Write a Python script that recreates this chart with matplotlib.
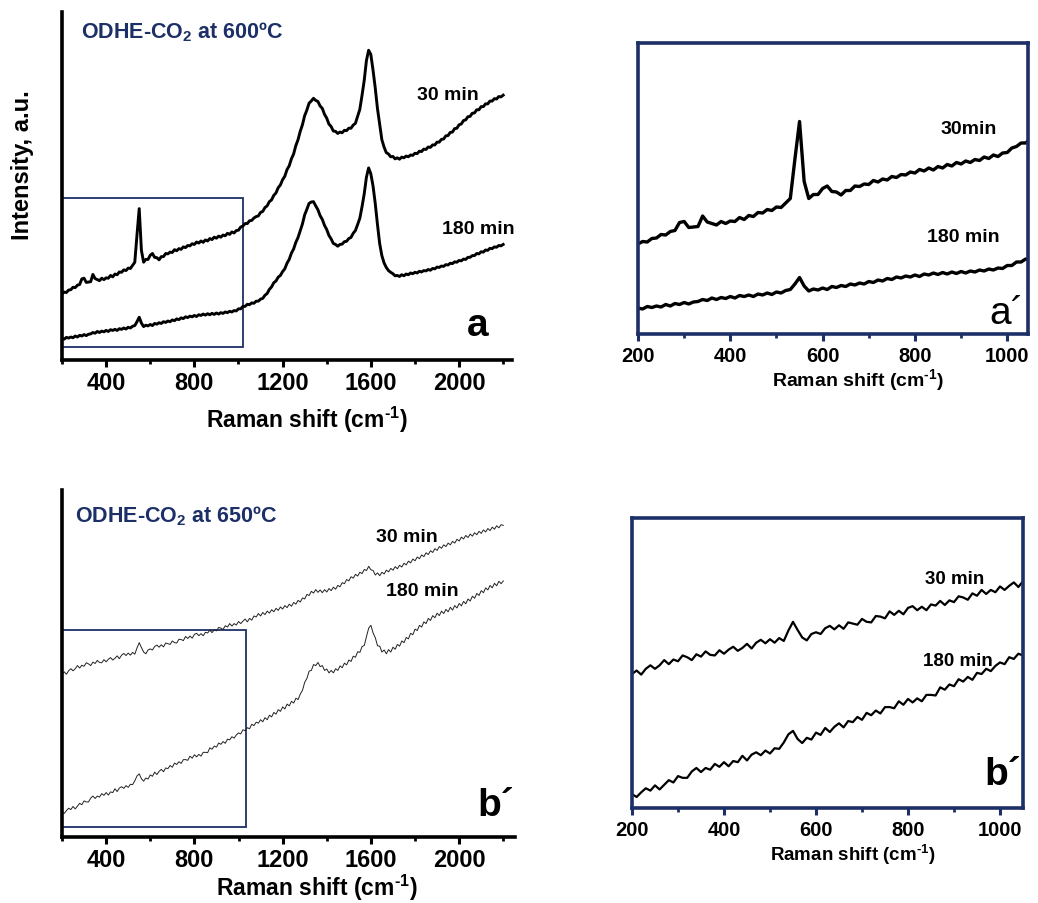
import numpy as np
import matplotlib
matplotlib.use("Agg")
import matplotlib.pyplot as plt
from matplotlib.patches import Rectangle
from matplotlib.ticker import MultipleLocator

plt.rcParams['font.family'] = ['Liberation Sans', 'DejaVu Sans']
plt.rcParams['mathtext.fontset'] = 'custom'
plt.rcParams['mathtext.rm'] = 'Liberation Sans:bold'
plt.rcParams['mathtext.bf'] = 'Liberation Sans:bold'
plt.rcParams['mathtext.it'] = 'Liberation Sans:bold'

# ---------------- data ----------------
# Raman shift grid (cm-1), 200 ... 2200 every 10
raman_shift = np.arange(200, 2201, 10)

# ODHE-CO2 at 600 C, 30 min (arb. intensity)
a_30min = [
    19.0, 19.5, 19.4, 20.1, 20.2, 20.9, 20.8, 21.5, 21.7, 23.3,
    23.5, 22.3, 22.4, 22.5, 24.6, 23.4, 23.1, 22.8, 23.5, 23.1,
    23.6, 23.5, 24.3, 23.9, 24.7, 24.5, 25.3, 25.2, 25.9, 25.7,
    26.4, 26.3, 27.2, 28.1, 36.0, 43.5, 31.5, 28.1, 28.9, 28.9,
    30.1, 30.6, 29.5, 29.4, 28.8, 29.7, 29.7, 30.6, 30.5, 31.0,
    30.9, 31.7, 31.4, 32.0, 31.8, 32.5, 32.3, 32.9, 32.8, 33.4,
    33.2, 33.9, 33.6, 34.2, 33.8, 34.5, 34.2, 34.9, 34.6, 35.3,
    35.0, 35.6, 35.3, 35.9, 35.7, 36.4, 36.1, 36.8, 36.5, 37.2,
    37.3, 38.2, 38.5, 39.2, 39.2, 40.0, 40.1, 40.8, 41.2, 41.4,
    42.4, 42.7, 43.8, 44.3, 45.5, 46.0, 47.3, 48.0, 49.5, 50.3,
    51.8, 52.8, 54.7, 55.8, 57.8, 59.2, 61.6, 63.3, 65.7, 67.6,
    70.2, 71.8, 73.8, 74.4, 75.2, 74.6, 74.3, 73.0, 72.3, 70.6,
    69.5, 67.8, 67.1, 65.8, 65.7, 65.1, 65.5, 65.3, 66.0, 65.9,
    66.6, 66.6, 67.5, 68.0, 70.0, 72.0, 76.0, 80.3, 86.0, 89.0,
    87.8, 83.3, 78.2, 72.3, 67.7, 63.3, 61.2, 59.6, 59.2, 58.4,
    58.5, 57.8, 58.1, 57.7, 58.3, 58.1, 58.6, 58.4, 58.9, 58.8,
    59.4, 59.3, 60.0, 59.9, 60.6, 60.5, 61.2, 61.1, 61.8, 61.8,
    62.6, 62.6, 63.4, 63.5, 64.4, 64.5, 65.4, 65.5, 66.5, 66.6,
    67.6, 67.8, 68.8, 69.0, 69.9, 70.0, 70.9, 71.0, 71.9, 71.9,
    72.8, 72.8, 73.6, 73.6, 74.4, 74.4, 75.1, 75.0, 75.7, 75.6,
    76.1,
]

# ODHE-CO2 at 600 C, 180 min
a_180min = [
    6.2, 6.0, 6.5, 6.3, 6.6, 6.4, 6.9, 6.6, 7.1, 6.9,
    7.3, 7.0, 7.4, 7.5, 7.9, 7.7, 8.2, 7.9, 8.3, 8.1,
    8.5, 8.2, 8.7, 8.5, 8.8, 8.5, 9.0, 8.8, 9.2, 8.9,
    9.4, 9.2, 9.7, 9.9, 11.0, 12.3, 10.6, 9.6, 10.0, 9.8,
    10.2, 9.9, 10.5, 10.3, 10.7, 10.5, 11.0, 10.8, 11.2, 11.0,
    11.5, 11.3, 11.8, 11.6, 12.1, 11.9, 12.4, 12.2, 12.6, 12.4,
    12.8, 12.5, 13.0, 12.8, 13.2, 12.9, 13.3, 13.0, 13.4, 13.1,
    13.5, 13.2, 13.6, 13.4, 13.8, 13.6, 14.0, 13.8, 14.2, 14.1,
    14.7, 14.7, 15.4, 15.4, 16.0, 15.9, 16.4, 16.3, 16.9, 16.9,
    17.5, 17.7, 18.6, 19.1, 20.3, 21.0, 22.2, 22.7, 23.8, 24.3,
    25.4, 26.2, 27.8, 28.9, 30.7, 31.9, 33.8, 35.2, 37.2, 39.1,
    41.7, 43.3, 45.0, 45.4, 45.5, 44.3, 43.2, 41.5, 40.4, 38.7,
    37.5, 35.8, 34.8, 33.5, 33.2, 32.7, 33.2, 33.3, 34.0, 34.1,
    34.9, 35.2, 36.4, 37.2, 38.9, 40.7, 44.0, 47.7, 52.5, 55.2,
    53.5, 50.0, 45.0, 39.0, 33.5, 30.0, 27.9, 26.6, 25.7, 25.2,
    24.8, 24.2, 24.3, 24.0, 24.5, 24.2, 24.7, 24.5, 25.0, 24.8,
    25.2, 25.0, 25.5, 25.3, 25.7, 25.6, 26.0, 25.8, 26.3, 26.2,
    26.7, 26.6, 27.0, 26.9, 27.4, 27.3, 27.8, 27.7, 28.2, 28.1,
    28.6, 28.5, 29.0, 28.9, 29.5, 29.5, 30.0, 30.0, 30.6, 30.5,
    31.1, 31.0, 31.6, 31.5, 32.1, 32.0, 32.5, 32.4, 32.9, 32.8,
    33.2,
]

# ODHE-CO2 at 650 C, 30 min
b_30min = [
    47.0, 47.6, 46.9, 47.9, 48.5, 47.9, 48.5, 49.4, 48.7, 49.5,
    49.2, 50.2, 49.9, 49.4, 50.4, 50.0, 50.9, 50.3, 50.2, 51.1,
    50.5, 51.2, 51.7, 51.0, 51.5, 52.2, 51.4, 52.4, 52.9, 52.3,
    53.0, 52.4, 53.2, 52.7, 54.5, 56.0, 54.6, 53.3, 52.8, 53.9,
    54.2, 53.9, 54.9, 55.3, 54.7, 55.4, 54.8, 55.9, 55.7, 55.5,
    56.5, 56.0, 55.9, 57.0, 56.9, 56.6, 57.8, 57.2, 57.9, 57.3,
    58.4, 58.7, 58.0, 58.6, 58.0, 59.0, 58.8, 59.6, 58.9, 59.7,
    59.4, 60.4, 60.2, 59.8, 60.9, 60.5, 61.5, 60.8, 61.5, 61.1,
    62.1, 61.5, 62.2, 62.8, 62.0, 63.0, 62.5, 63.7, 63.4, 64.4,
    63.7, 64.7, 64.1, 65.1, 64.5, 65.5, 64.9, 65.9, 65.3, 66.3,
    65.7, 66.7, 66.1, 67.1, 66.5, 67.6, 67.1, 68.2, 67.7, 68.9,
    68.6, 69.9, 69.6, 70.8, 70.3, 71.3, 70.5, 71.2, 70.4, 71.3,
    70.6, 71.6, 71.0, 72.0, 71.4, 72.5, 72.1, 73.3, 73.0, 74.2,
    73.8, 75.0, 74.6, 75.7, 75.2, 76.3, 75.9, 77.1, 76.8, 78.0,
    77.0, 76.8, 75.5, 76.1, 75.3, 76.3, 75.8, 76.9, 76.4, 77.4,
    76.9, 77.9, 77.3, 78.3, 77.8, 78.9, 78.4, 79.5, 79.0, 80.1,
    79.6, 80.7, 80.2, 81.3, 80.8, 81.9, 81.4, 82.5, 82.0, 83.1,
    82.6, 83.7, 83.2, 84.2, 83.7, 84.7, 84.2, 85.2, 84.7, 85.8,
    85.3, 86.4, 85.9, 86.9, 86.3, 87.3, 86.7, 87.7, 87.1, 88.1,
    87.5, 88.5, 87.9, 88.9, 88.3, 89.3, 88.7, 89.7, 89.1, 90.0,
    89.8,
]

# ODHE-CO2 at 650 C, 180 min
b_180min = [
    7.3, 6.8, 7.6, 8.3, 7.9, 8.8, 8.1, 8.9, 9.7, 9.3,
    10.4, 10.1, 10.1, 11.2, 11.8, 11.1, 11.8, 11.5, 12.5, 12.0,
    12.8, 12.1, 13.0, 12.8, 13.9, 13.1, 14.1, 14.5, 14.0, 14.8,
    14.3, 15.2, 15.1, 16.2, 17.6, 18.2, 16.8, 16.1, 17.0, 16.7,
    17.9, 17.5, 18.7, 18.0, 18.9, 19.5, 18.8, 19.9, 19.7, 20.6,
    20.1, 21.3, 20.9, 21.7, 21.2, 22.3, 22.3, 22.1, 23.3, 22.7,
    23.7, 23.1, 23.8, 23.3, 24.4, 24.4, 24.3, 25.7, 25.3, 26.2,
    25.9, 27.1, 26.7, 27.5, 27.0, 28.2, 28.0, 28.9, 28.5, 29.4,
    30.0, 29.7, 30.9, 30.6, 31.5, 31.2, 32.5, 32.1, 33.1, 32.8,
    33.8, 33.2, 34.4, 33.8, 35.1, 34.6, 35.9, 35.4, 36.7, 36.2,
    37.5, 36.9, 38.3, 37.8, 39.1, 38.6, 40.0, 39.6, 41.2, 42.3,
    44.6, 45.7, 47.8, 48.0, 49.7, 49.4, 50.3, 49.1, 49.4, 48.0,
    48.4, 47.3, 48.0, 47.3, 48.5, 48.0, 49.3, 48.8, 50.1, 49.6,
    51.0, 50.6, 52.1, 51.8, 53.4, 53.2, 54.9, 55.2, 57.8, 60.2,
    61.0, 58.8, 57.4, 55.1, 55.0, 53.3, 53.9, 52.8, 54.0, 53.3,
    54.7, 54.1, 55.5, 55.0, 56.5, 56.0, 57.5, 57.1, 58.7, 58.3,
    59.9, 59.5, 61.0, 60.5, 62.0, 61.5, 63.0, 62.4, 63.8, 63.2,
    64.5, 63.8, 65.1, 64.4, 65.6, 64.9, 66.2, 65.4, 66.7, 66.0,
    67.3, 66.6, 67.9, 67.2, 68.6, 68.0, 69.4, 68.8, 70.2, 69.6,
    71.0, 70.4, 71.8, 71.2, 72.5, 71.8, 73.1, 72.4, 73.7, 73.0,
    73.8,
]

major_ticks_full = [400, 800, 1200, 1600, 2000]
major_ticks_zoom = [200, 400, 600, 800, 1000]
labels_time = ["30 min", "180 min"]

# ---------------- styling ----------------
W, H = 1038, 904
NAVY = '#1c2f66'
fig = plt.figure(figsize=(W / 100, H / 100), dpi=100)


def box(l, t, r, b):
    return [l / W, 1 - b / H, (r - l) / W, (b - t) / H]


def ftext(x, y, s, **kw):
    kw.setdefault('ha', 'center')
    kw.setdefault('va', 'center')
    fig.text(x / W, 1 - y / H, s, **kw)


def style_full(ax, xmax, ylim):
    ax.set_xlim(200, xmax)
    ax.set_ylim(*ylim)
    for s in ('top', 'right'):
        ax.spines[s].set_visible(False)
    for s in ('left', 'bottom'):
        ax.spines[s].set_linewidth(2.6)
        ax.spines[s].set_color('black')
    ax.set_xticks(major_ticks_full)
    ax.xaxis.set_minor_locator(MultipleLocator(200))
    ax.set_yticks([])
    ax.tick_params(axis='x', which='major', direction='out', length=5, width=2.2,
                   labelsize=17, pad=3)
    ax.tick_params(axis='x', which='minor', direction='out', length=3, width=2.0)
    for lab in ax.get_xticklabels():
        lab.set_fontweight('bold')


def style_zoom(ax, xmax, ylim):
    ax.set_xlim(200, xmax)
    ax.set_ylim(*ylim)
    for s in ax.spines.values():
        s.set_linewidth(2.6)
        s.set_color(NAVY)
    ax.set_xticks(major_ticks_zoom)
    ax.xaxis.set_minor_locator(MultipleLocator(100))
    ax.set_yticks([])
    ax.tick_params(axis='x', which='major', direction='out', length=5, width=2.2,
                   color=NAVY, labelsize=14.5, pad=4)
    ax.tick_params(axis='x', which='minor', direction='out', length=3, width=2.0,
                   color=NAVY)
    for lab in ax.get_xticklabels():
        lab.set_fontweight('bold')


xlab = r"Raman shift (cm$^{\text{-1}}$)"

# ---- panel a ----
ax_a = fig.add_axes(box(62, 13, 512, 361))
ax_a.plot(raman_shift, a_30min, color='black', lw=2.1)
ax_a.plot(raman_shift, a_180min, color='black', lw=2.1)
style_full(ax_a, 2240, (0, 100))
ax_a.add_patch(Rectangle((200, 3.7), 820, 42.9, fill=False, ec=NAVY, lw=1.3, clip_on=False))
ftext(81, 32, r"ODHE-CO$_{\text{2}}$ at 600ºC", ha='left', fontsize=15.5,
      fontweight='bold', color=NAVY)
ftext(448, 96, labels_time[0], fontsize=14, fontweight='bold')
ftext(478, 230, labels_time[1], fontsize=14, fontweight='bold')
ftext(478, 326, "a", fontsize=28, fontweight='bold')
ftext(23, 165, "Intensity, a.u.", rotation=90, fontsize=17, fontweight='bold')
ftext(307, 420, xlab, fontsize=16.5, fontweight='bold')

# ---- panel a' ----
ax_ap = fig.add_axes(box(638, 44, 1028, 335))
ax_ap.plot(raman_shift, a_30min, color='black', lw=2.4)
ax_ap.plot(raman_shift, a_180min, color='black', lw=2.4)
style_zoom(ax_ap, 1045, (1, 59.2))
ftext(969, 130, "30min", fontsize=14, fontweight='bold')
ftext(963, 237, labels_time[1], fontsize=14, fontweight='bold')
ftext(1007, 314, "a´", fontsize=28)
ftext(858, 380, xlab, fontsize=14, fontweight='bold')

# ---- panel b ----
ax_b = fig.add_axes(box(62, 491, 515, 838))
ax_b.plot(raman_shift, b_30min, color='#222222', lw=0.7)
ax_b.plot(raman_shift, b_180min, color='#222222', lw=0.7)
style_full(ax_b, 2253, (0, 100))
ax_b.add_patch(Rectangle((200, 2.9), 833, 56.8, fill=False, ec=NAVY, lw=1.3, clip_on=False))
ftext(75, 516, r"ODHE-CO$_{\text{2}}$ at 650ºC", ha='left', fontsize=15.5,
      fontweight='bold', color=NAVY)
ftext(407, 538, labels_time[0], fontsize=14, fontweight='bold')
ftext(422, 592, labels_time[1], fontsize=14, fontweight='bold')
ftext(496, 806, "b´", fontsize=28, fontweight='bold')
ftext(317, 888, xlab, fontsize=16.5, fontweight='bold')

# ---- panel b' ----
ax_bp = fig.add_axes(box(632, 519, 1023, 809))
offset_180 = 19.0
ax_bp.plot(raman_shift, b_30min, color='black', lw=1.6)
ax_bp.plot(raman_shift, np.array(b_180min) + offset_180, color='black', lw=1.6)
style_zoom(ax_bp, 1050, (23.9, 73.9))
ftext(955, 580, labels_time[0], fontsize=13.5, fontweight='bold')
ftext(958, 662, labels_time[1], fontsize=13.5, fontweight='bold')
ftext(1003, 775, "b´", fontsize=28, fontweight='bold')
ftext(853, 855, xlab, fontsize=13.5, fontweight='bold')

fig.savefig("out.png", dpi=100)
